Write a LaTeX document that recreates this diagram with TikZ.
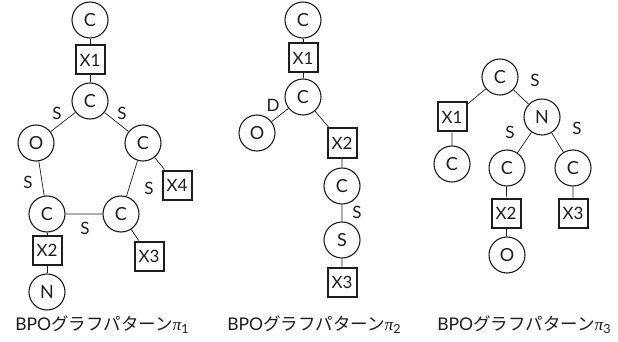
\documentclass[tikz,border=0pt]{standalone}
\usepackage{fontspec}
\setmainfont{Lato}
\newfontfamily\jpfont{Noto Sans CJK JP}
\newfontfamily\greekfont{Liberation Serif}
\definecolor{ink}{HTML}{1E1E1E}
% pattern index: italic pi with a lowered digit
\newcommand{\patidx}[1]{{\greekfont\itshape π}\raisebox{-0.35ex}{\fontsize{12.5}{12.5}\selectfont #1}}
\begin{document}
\begin{tikzpicture}[x=1pt,y=-1pt,color=ink,
  atom/.style={draw,circle,line width=1.1pt,minimum size=36pt,inner sep=0pt,font=\fontsize{18}{18}\selectfont},
  var/.style={draw,rectangle,line width=2pt,minimum width=29pt,minimum height=29pt,inner sep=0pt,font=\fontsize{17}{17}\selectfont},
  bond/.style={line width=0.7pt},
  lbl/.style={font=\fontsize{17}{17}\selectfont,inner sep=0pt},
  caption/.style={font=\fontsize{17.5}{17.5}\selectfont,inner sep=0pt}]
\useasboundingbox (0,0) rectangle (618,342);

% pattern 1
\node[atom] (a1) at (90,20) {C};
\node[var]  (a2) at (90,60) {X1};
\node[atom] (a3) at (90,101) {C};
\node[atom] (a4) at (36,143) {O};
\node[atom] (a5) at (143,143) {C};
\node[atom] (a6) at (47,214) {C};
\node[atom] (a7) at (121,214) {C};
\node[var]  (a8) at (177,185) {X4};
\node[var]  (a9) at (149,256) {X3};
\node[var]  (a10) at (47,250) {X2};
\node[atom] (a11) at (47,292) {N};
\draw[bond] (a1) -- (a2) -- (a3);
\draw[bond] (a3) -- (a4) -- (a6) -- (a7) -- (a5) -- (a3);
\draw[bond] (a5) -- (a8);
\draw[bond] (a7) -- (a9);
\draw[bond] (a6) -- (a10) -- (a11);
\node[lbl] (s1) at (57,113) {S};
\node[lbl] (s2) at (122,113) {S};
\node[lbl] (s3) at (28,182) {S};
\node[lbl] (s4) at (149,188) {S};
\node[lbl] (s5) at (85,228) {S};
\node[caption] (c1) at (102,325) {BPO{\jpfont グラフパターン}\patidx{1}};

% pattern 2
\node[atom] (b1) at (303,20) {C};
\node[var]  (b2) at (303,58) {X1};
\node[atom] (b3) at (303,97) {C};
\node[atom] (b4) at (257,133) {O};
\node[var]  (b5) at (342,143) {X2};
\node[atom] (b6) at (342,186) {C};
\node[atom] (b7) at (342,240) {S};
\node[var]  (b8) at (342,282) {X3};
\draw[bond] (b1) -- (b2) -- (b3);
\draw[bond] (b3) -- (b4);
\draw[bond] (b3) -- (b5) -- (b6) -- (b7) -- (b8);
\node[lbl] (d1) at (273,105) {D};
\node[lbl] (s6) at (357,212) {S};
\node[caption] (c2) at (314,325) {BPO{\jpfont グラフパターン}\patidx{2}};

% pattern 3
\node[atom] (e1) at (500,77) {C};
\node[var]  (e2) at (452,117) {X1};
\node[atom] (e3) at (452,164) {C};
\node[atom] (e4) at (542,117) {N};
\node[atom] (e5) at (507,168) {C};
\node[atom] (e6) at (573,168) {C};
\node[var]  (e7) at (506,213) {X2};
\node[var]  (e8) at (573,213) {X3};
\node[atom] (e9) at (507,255) {O};
\draw[bond] (e1) -- (e2) -- (e3);
\draw[bond] (e1) -- (e4);
\draw[bond] (e4) -- (e5) -- (e7) -- (e9);
\draw[bond] (e4) -- (e6) -- (e8);
\node[lbl] (s7) at (535,80) {S};
\node[lbl] (s8) at (510,132) {S};
\node[lbl] (s9) at (577,128) {S};
\node[caption] (c3) at (524,325) {BPO{\jpfont グラフパターン}\patidx{3}};
\end{tikzpicture}
\end{document}
